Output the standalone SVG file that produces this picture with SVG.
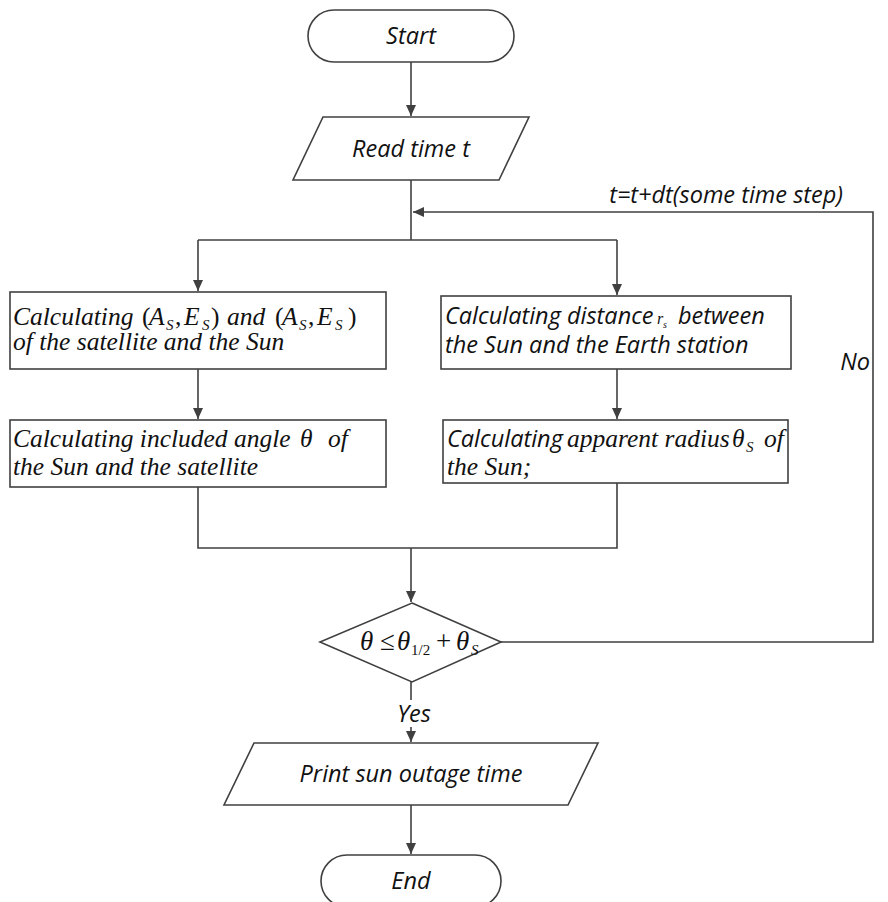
<svg xmlns="http://www.w3.org/2000/svg" width="888" height="902" viewBox="0 0 888 902">
<style>
.s{fill:#fff;stroke:#404040;stroke-width:1.6}
.c{fill:none;stroke:#404040;stroke-width:1.6}
.sans{font-family:"Open Sans","DejaVu Sans",sans-serif;font-style:italic;font-size:23.5px;fill:#111}
.ser{font-family:"Liberation Serif","Times New Roman",serif;font-style:italic;font-size:25.5px;fill:#111}
.sub{font-size:15px}
</style>
<defs>
<marker id="a" markerUnits="userSpaceOnUse" markerWidth="12" markerHeight="12" viewBox="0 0 12 12" refX="11" refY="6" orient="auto">
<path d="M0,1 L11,6 L0,11 Z" fill="#404040"/>
</marker>
</defs>
<g id="connectors">
<path class="c" d="M411,62 V116" marker-end="url(#a)"/>
<path class="c" d="M411,180 V240"/>
<path class="c" d="M198,240 H617"/>
<path class="c" d="M198,240 V291" marker-end="url(#a)"/>
<path class="c" d="M617,240 V295" marker-end="url(#a)"/>
<path class="c" d="M198,369 V419" marker-end="url(#a)"/>
<path class="c" d="M617,369 V419" marker-end="url(#a)"/>
<path class="c" d="M198,487 V548 H617 V483"/>
<path class="c" d="M411,548 V602" marker-end="url(#a)"/>
<path class="c" d="M501,642 H873 V212 H413" marker-end="url(#a)"/>
<path class="c" d="M411,682 V700"/>
<path class="c" d="M411,727 V742" marker-end="url(#a)"/>
<path class="c" d="M411,805 V854" marker-end="url(#a)"/>
<text class="sans" x="843" y="203" text-anchor="end">t=t+dt(some time step)</text>
<text class="sans" x="870" y="370" text-anchor="end">No</text>
<text class="sans" x="414" y="722" text-anchor="middle">Yes</text>
</g>
<g id="start">
<rect class="s" x="308" y="10" width="206" height="52" rx="26"/>
<text class="sans" x="411" y="44" text-anchor="middle">Start</text>
</g>
<g id="read">
<path class="s" d="M323,117 H529 L499,180 H293 Z"/>
<text class="sans" x="411" y="157" text-anchor="middle">Read time t</text>
</g>
<g id="calcAE">
<rect class="s" x="10" y="292" width="376" height="77"/>
<text class="ser" y="325"><tspan x="13">Calculating</tspan><tspan x="142" font-style="normal">(</tspan><tspan x="149">A</tspan><tspan x="166" y="330" class="sub">S</tspan><tspan x="175" y="325" font-style="normal">,</tspan><tspan x="184">E</tspan><tspan x="202" y="330" class="sub">S</tspan><tspan x="211" y="325" font-style="normal">)</tspan><tspan x="227">and</tspan><tspan x="275" font-style="normal">(</tspan><tspan x="282">A</tspan><tspan x="299" y="330" class="sub">S</tspan><tspan x="308" y="325" font-style="normal">,</tspan><tspan x="317">E</tspan><tspan x="335" y="330" class="sub">S</tspan><tspan x="348" y="325" font-style="normal">)</tspan></text>
<text class="ser" x="13" y="350">of the satellite and the Sun</text>
</g>
<g id="calcDist">
<rect class="s" x="441" y="296" width="350" height="73"/>
<text class="sans" y="324"><tspan x="445">Calculating distance</tspan><tspan x="657" style="font-family:'Liberation Serif',serif;font-size:16px">r</tspan><tspan x="663" y="328" style="font-family:'Liberation Serif',serif;font-size:10px">s</tspan><tspan x="678" y="324">between</tspan></text>
<text class="sans" x="445" y="353">the Sun and the Earth station</text>
</g>
<g id="calcAngle">
<rect class="s" x="10" y="420" width="376" height="67"/>
<text class="ser" y="447"><tspan x="13">Calculating included angle</tspan><tspan x="300">θ</tspan><tspan x="328">of</tspan></text>
<text class="ser" x="13" y="475">the Sun and the satellite</text>
</g>
<g id="calcRadius">
<rect class="s" x="443" y="420" width="345" height="63"/>
<text class="ser" y="447"><tspan x="447" style="font-family:'Open Sans',sans-serif;font-size:23.5px">Calculating</tspan><tspan x="567">apparent radius</tspan><tspan x="732">θ</tspan><tspan class="sub" x="746" y="452">S</tspan><tspan x="764" y="447">of</tspan></text>
<text class="ser" x="447" y="475">the Sun;</text>
</g>
<g id="decision">
<path class="s" d="M412,603 L501,642 L412,682 L320,642 Z"/>
<text class="ser" y="650" style="font-size:27px"><tspan x="360">θ</tspan><tspan x="380" font-style="normal">≤</tspan><tspan x="397">θ</tspan><tspan x="411" y="655" class="sub" font-style="normal">1/2</tspan><tspan x="436" y="650" font-style="normal">+</tspan><tspan x="456">θ</tspan><tspan x="471" y="655" class="sub">S</tspan></text>
</g>
<g id="print">
<path class="s" d="M254,743 H598 L568,805 H224 Z"/>
<text class="sans" x="411" y="782" text-anchor="middle">Print sun outage time</text>
</g>
<g id="end">
<rect class="s" x="321" y="855" width="180" height="52" rx="26"/>
<text class="sans" x="411" y="889" text-anchor="middle">End</text>
</g>
</svg>
